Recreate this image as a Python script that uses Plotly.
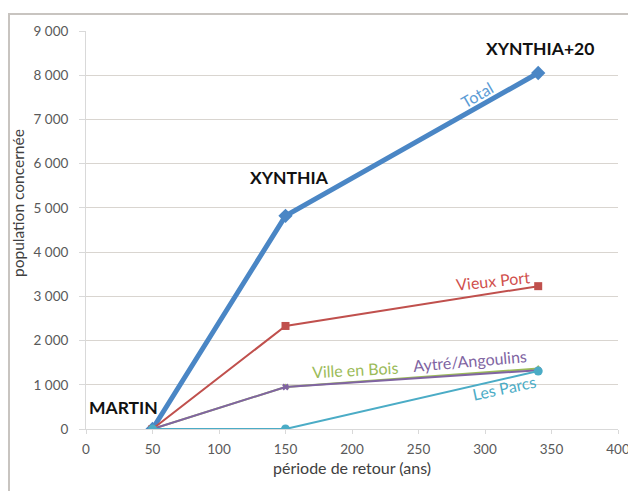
import plotly.graph_objects as go

periodes = [50, 150, 340]
total = [0, 4820, 8050]
vieux_port = [0, 2330, 3230]
ville_en_bois = [0, 950, 1370]
aytre = [0, 950, 1330]
les_parcs = [0, 0, 1310]

y_ticks = [0, 1000, 2000, 3000, 4000, 5000, 6000, 7000, 8000, 9000]
x_ticks = [0, 50, 100, 150, 200, 250, 300, 350, 400]

FONT = "Lato"
series = [
    ("Total", total, "#4A86C5", 5, "diamond", 11),
    ("Vieux Port", vieux_port, "#C0504D", 2, "square", 8),
    ("Ville en Bois", ville_en_bois, "#9BBB59", 2, "triangle-up", 7),
    ("Aytré/Angoulins", aytre, "#8064A2", 2, "x", 6),
    ("Les Parcs", les_parcs, "#4BACC6", 2, "circle", 9),
]

fig = go.Figure()
for name, vals, col, w, sym, sz in series:
    fig.add_trace(go.Scatter(
        x=periodes, y=vals, mode="lines+markers", name=name,
        line=dict(color=col, width=w),
        marker=dict(symbol=sym, size=sz, color=col),
        showlegend=False,
    ))

ann = [
    ("XYNTHIA+20", 341, 8615, "#111111", 17.5, 0, True),
    ("XYNTHIA", 153, 5676, "#111111", 17.5, 0, True),
    ("MARTIN", 28, 497, "#111111", 17.5, 0, True),
    ("Total", 294, 7560, "#5B9BD5", 16, -30, False),
    ("Vieux Port", 306, 3350, "#D0504D", 16, -6, False),
    ("Ville en Bois", 202, 1340, "#9BBB59", 16, -3, False),
    ("Aytré/Angoulins", 289, 1560, "#8064A2", 16, -5, False),
    ("Les Parcs", 315, 930, "#4BACC6", 16, -12, False),
]
for t, x, y, c, s, a, b in ann:
    fig.add_annotation(x=x, y=y, text=f"<b>{t}</b>" if b else t, showarrow=False,
                       font=dict(family=FONT, size=s, color=c), textangle=a)

# page offset (body margin) of 8 px
OFF = 8
W, H = 636 - OFF, 491 - OFF
L, R, T, B = 86 - OFF, 18, 31 - OFF, 62
pw, ph = W - L - R, H - T - B

def px(xp):
    return (xp - OFF - L) / pw

def py(yp):
    return (H - B - (yp - OFF)) / ph

# axis titles
fig.add_annotation(xref="paper", yref="paper", x=px(18), y=py(203), text="population concernée",
                   textangle=-90, showarrow=False, xanchor="center", yanchor="middle",
                   font=dict(family=FONT, size=15.5, color="#404040"))
fig.add_annotation(xref="paper", yref="paper", x=px(352), y=py(467), text="période de retour (ans)",
                   showarrow=False, xanchor="center", yanchor="middle",
                   font=dict(family=FONT, size=16, color="#404040"))

# outer frame
fig.add_shape(type="rect", xref="paper", yref="paper",
              x0=px(9), x1=px(640), y0=py(500), y1=py(14),
              line=dict(color="#C8C4C0", width=2), fillcolor="rgba(0,0,0,0)", layer="below")

fig.update_layout(
    width=W, height=H,
    margin=dict(l=L, r=R, t=T, b=B),
    paper_bgcolor="white", plot_bgcolor="white",
    separators=", ",
    font=dict(family=FONT, color="#595959", size=13.5),
    xaxis=dict(range=[0, 400], tickvals=x_ticks, showgrid=False, zeroline=False, automargin=False,
               showline=True, linecolor="#D9D9D9", ticks="outside", tickcolor="#D9D9D9",
               ticklen=4, ticklabelstandoff=4, tickfont=dict(size=13.5, color="#595959")),
    yaxis=dict(range=[0, 9000], tickvals=y_ticks, tickformat=",d", showgrid=True, automargin=False,
               gridcolor="#D9D5D0", zeroline=False, showline=True, linecolor="#D9D9D9",
               ticks="outside", tickcolor="#D9D9D9", ticklen=6, ticklabelstandoff=8,
               tickfont=dict(size=13.5, color="#595959")),
)

fig.write_html("out.html")
